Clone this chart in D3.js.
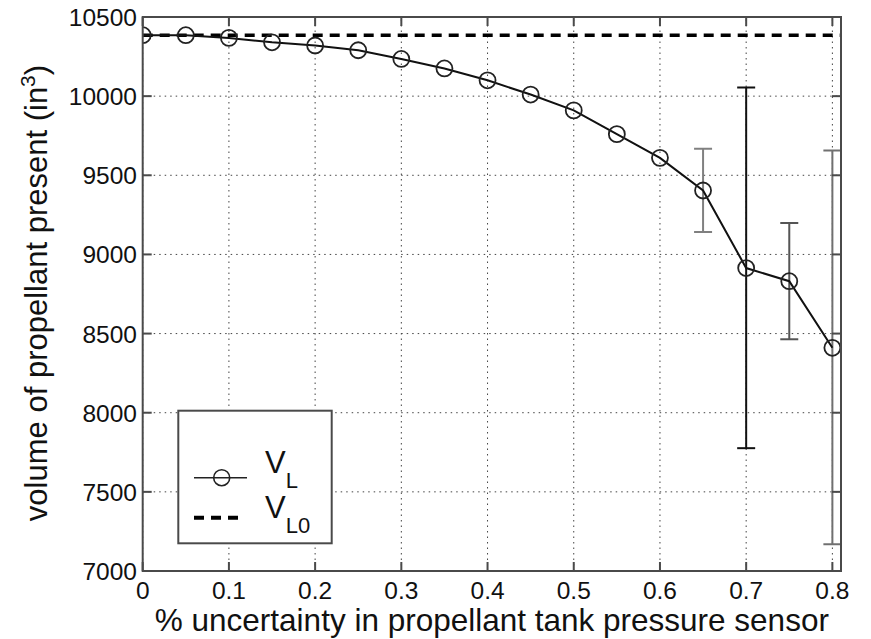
<!DOCTYPE html>
<html><head><meta charset="utf-8">
<script src="https://cdn.jsdelivr.net/npm/d3@7"></script>
<style>body{margin:0;background:#fff}svg{display:block}text{font-family:"Liberation Sans",Arial,sans-serif}</style>
</head><body><svg id="c" width="871" height="639"></svg>
<script>
const xVals = [0,0.05,0.1,0.15,0.2,0.25,0.3,0.35,0.4,0.45,0.5,0.55,0.6,0.65,0.7,0.75,0.8];
const vL = [10385,10385,10368,10340,10320,10290,10235,10175,10100,10010,9910,9760,9610,9404,8914,8831,8410];
const errTop = [null,null,null,null,null,null,null,null,null,null,null,null,null,9667,10055,9199,9656];
const errBot = [null,null,null,null,null,null,null,null,null,null,null,null,null,9142,7776,8464,7169];
const errColor = [null,null,null,null,null,null,null,null,null,null,null,null,null,"#808080","#111","#555","#707070"];
const vL0 = 10385;
const xTicks = [0,0.1,0.2,0.3,0.4,0.5,0.6,0.7,0.8];
const yTicks = [7000,7500,8000,8500,9000,9500,10000,10500];

const svg = d3.select("#c");
const L=142.7, R=841, T=17, B=571;
const x = d3.scaleLinear().domain([0,0.81]).range([L,R]);
const y = d3.scaleLinear().domain([7000,10500]).range([B,T]);

// grid
const grid = svg.append("g").attr("stroke","#444").attr("stroke-width",1).attr("stroke-dasharray","1.5,4");
xTicks.forEach(t=>grid.append("line").attr("x1",x(t)).attr("x2",x(t)).attr("y1",B).attr("y2",T));
yTicks.forEach(t=>grid.append("line").attr("x1",L).attr("x2",R).attr("y1",y(t)).attr("y2",y(t)));

// clip
svg.append("clipPath").attr("id","pa").append("rect").attr("x",L).attr("y",T).attr("width",R-L).attr("height",B-T);
const plot = svg.append("g").attr("clip-path","url(#pa)");

// VL0 dashed
plot.append("line").attr("x1",x(0)).attr("x2",R).attr("y1",y(vL0)).attr("y2",y(vL0))
  .attr("stroke","#000").attr("stroke-width",3.5).attr("stroke-dasharray","10,7");

// error bars
const cap=9;
xVals.forEach((xv,i)=>{
  if(errTop[i]==null) return;
  const g=plot.append("g").attr("stroke",errColor[i]).attr("stroke-width",2);
  g.append("line").attr("x1",x(xv)).attr("x2",x(xv)).attr("y1",y(errTop[i])).attr("y2",y(errBot[i]));
  g.append("line").attr("x1",x(xv)-cap).attr("x2",x(xv)+cap).attr("y1",y(errTop[i])).attr("y2",y(errTop[i]));
  g.append("line").attr("x1",x(xv)-cap).attr("x2",x(xv)+cap).attr("y1",y(errBot[i])).attr("y2",y(errBot[i]));
});

// VL line
const pts = xVals.map((xv,i)=>[xv,vL[i]]);
plot.append("path").attr("d",d3.line().x(d=>x(d[0])).y(d=>y(d[1]))(pts))
  .attr("fill","none").attr("stroke","#111").attr("stroke-width",2);
plot.selectAll("circle.m").data(pts).enter().append("circle").attr("class","m")
  .attr("cx",d=>x(d[0])).attr("cy",d=>y(d[1])).attr("r",8)
  .attr("fill","none").attr("stroke","#222").attr("stroke-width",1.8);

// axes box
const axColor="#4a4a4a";
const ax = svg.append("g").attr("stroke",axColor).attr("stroke-width",2).attr("fill","none");
ax.append("rect").attr("x",L).attr("y",T).attr("width",R-L).attr("height",B-T);
const tl=9;
xTicks.forEach(t=>{
  ax.append("line").attr("x1",x(t)).attr("x2",x(t)).attr("y1",B).attr("y2",B-tl);
  ax.append("line").attr("x1",x(t)).attr("x2",x(t)).attr("y1",T).attr("y2",T+tl);
});
yTicks.forEach(t=>{
  ax.append("line").attr("x1",L).attr("x2",L+tl).attr("y1",y(t)).attr("y2",y(t));
  ax.append("line").attr("x1",R).attr("x2",R-tl).attr("y1",y(t)).attr("y2",y(t));
});

// tick labels
const fmtX = d=> d===0?"0":d3.format(".1f")(d);
svg.append("g").selectAll("text").data(xTicks).enter().append("text")
  .attr("x",d=>x(d)).attr("y",599).attr("text-anchor","middle").attr("font-size",24.5).attr("fill","#111")
  .text(fmtX);
svg.append("g").selectAll("text").data(yTicks).enter().append("text")
  .attr("x",137).attr("y",d=>y(d)+9).attr("text-anchor","end").attr("font-size",24.5).attr("fill","#111")
  .text(d=>d);

// axis labels
svg.append("text").attr("x",(L+R)/2).attr("y",631).attr("text-anchor","middle").attr("font-size",31.5).attr("fill","#111")
  .text("% uncertainty in propellant tank pressure sensor");
const yl = svg.append("text").attr("transform","translate(47,293) rotate(-90)").attr("text-anchor","middle")
  .attr("font-size",31).attr("fill","#111");
yl.append("tspan").text("volume of propellant present (in");
yl.append("tspan").attr("font-size",21).attr("dy",-12).text("3");
yl.append("tspan").attr("dy",12).text(")");

// legend
const lg = svg.append("g");
lg.append("rect").attr("x",178.3).attr("y",410.7).attr("width",153.4).attr("height",132.6)
  .attr("fill","#fff").attr("stroke",axColor).attr("stroke-width",2);
lg.append("line").attr("x1",194).attr("x2",247).attr("y1",477.7).attr("y2",477.7).attr("stroke","#222").attr("stroke-width",1.6);
lg.append("circle").attr("cx",221.7).attr("cy",477.7).attr("r",8).attr("fill","none").attr("stroke","#222").attr("stroke-width",1.6);
lg.append("line").attr("x1",194).attr("x2",244).attr("y1",517.7).attr("y2",517.7).attr("stroke","#000").attr("stroke-width",4).attr("stroke-dasharray","10,7");
const t1 = lg.append("text").attr("x",265).attr("y",472.7).attr("font-size",31).attr("fill","#111");
t1.append("tspan").text("V");
t1.append("tspan").attr("font-size",22).attr("dy",15.6).text("L");
const t2 = lg.append("text").attr("x",265).attr("y",517.7).attr("font-size",31).attr("fill","#111");
t2.append("tspan").text("V");
t2.append("tspan").attr("font-size",22).attr("dy",15.6).text("L0");
</script></body></html>
